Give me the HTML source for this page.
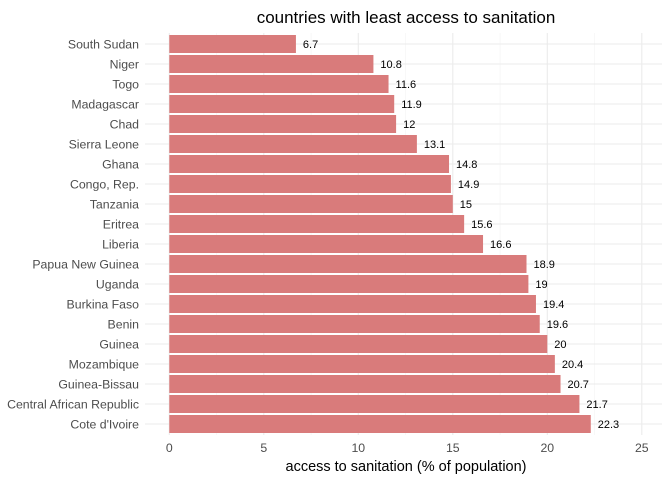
<!DOCTYPE html>
<html><head><meta charset="utf-8"><style>
body{margin:0;background:#fff;}
svg{display:block;font-family:"Liberation Sans",Arial,sans-serif;}
</style></head><body>
<svg id="chart" width="672" height="480">
<text x="406" y="23" text-anchor="middle" font-size="17" fill="#000">countries with least access to sanitation</text>
<g id="grid"></g><g id="bars"></g><g id="labels"></g><g id="axes"></g>
<text x="406" y="471" text-anchor="middle" font-size="14.5" fill="#000">access to sanitation (% of population)</text>
</svg>
<script>
const countries=["South Sudan","Niger","Togo","Madagascar","Chad","Sierra Leone","Ghana","Congo, Rep.","Tanzania","Eritrea","Liberia","Papua New Guinea","Uganda","Burkina Faso","Benin","Guinea","Mozambique","Guinea-Bissau","Central African Republic","Cote d'Ivoire"];
const values=[6.7,10.8,11.6,11.9,12,13.1,14.8,14.9,15,15.6,16.6,18.9,19,19.4,19.6,20,20.4,20.7,21.7,22.3];
const xTicks=[0,5,10,15,20,25];
const NS="http://www.w3.org/2000/svg";
const x0=169.3,xs=18.9,pl=145,pr=662,pt=33,pb=435;
const xf=v=>x0+v*xs, yf=i=>44+i*20;
function mk(t,a,p){const e=document.createElementNS(NS,t);for(const k in a)e.setAttribute(k,a[k]);p.appendChild(e);return e;}
const g=document.getElementById('grid'),b=document.getElementById('bars'),l=document.getElementById('labels'),ax=document.getElementById('axes');
for(let v=2.5;v<=25;v+=5){const e=mk('line',{x1:xf(v),x2:xf(v),y1:pt,y2:pb,stroke:'#f3f3f3','stroke-width':0.6},g);

}
xTicks.forEach(v=>{const e=mk('line',{x1:xf(v),x2:xf(v),y1:pt,y2:pb,stroke:'#ebebeb','stroke-width':1.1},g);


const t=mk('text',{x:xf(v),y:452,'text-anchor':'middle','font-size':12.3,fill:'#4d4d4d'},ax);t.textContent=v;

});
countries.forEach((c,i)=>{const y=yf(i);
const gl=mk('line',{x1:pl,x2:pr,y1:y,y2:y,stroke:'#ebebeb','stroke-width':1.1},g);


const r=mk('rect',{x:xf(0),y:y-9,width:xf(values[i])-xf(0),height:18,fill:'#d97b7b'},b);


const vt=mk('text',{x:xf(values[i])+7,y:y+4,'font-size':11,fill:'#000'},l);vt.textContent=values[i];


const ct=mk('text',{x:139,y:y+4.5,'text-anchor':'end','font-size':12.3,fill:'#4d4d4d'},ax);ct.textContent=c;

});
</script>
</body></html>
